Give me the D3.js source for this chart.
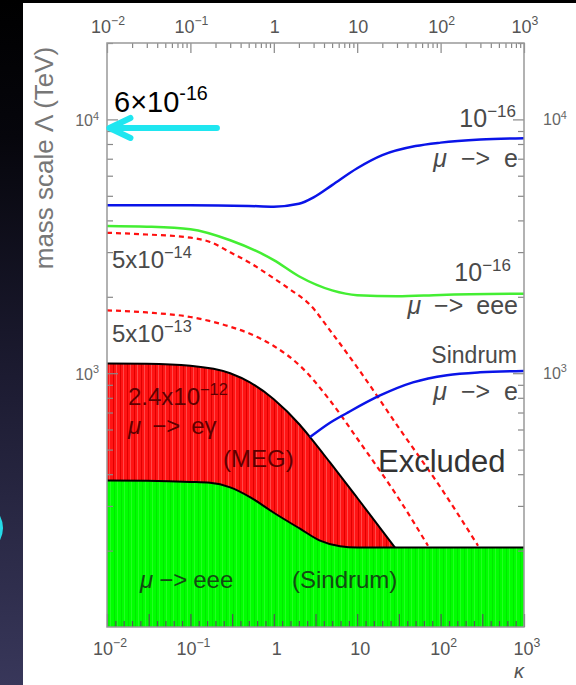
<!DOCTYPE html>
<html>
<head>
<meta charset="utf-8">
<script src="https://cdn.jsdelivr.net/npm/d3@7"></script>
<style>
  body { margin: 0; background: #fff; }
  svg { display: block; font-family: "Liberation Sans", Arial, sans-serif; }
</style>
</head>
<body>
<svg id="chart" width="576" height="685"></svg>
<script>
// ---- axis ticks -------------------------------------------------------
const kappaMajor = [0.01, 0.1, 1, 10, 100, 1000];
const kappaLabels = [["10", "−2"], ["10", "−1"], ["1", ""], ["10", ""], ["10", "2"], ["10", "3"]];
const lambdaMajor = [1000, 10000];
const lambdaLabels = [["10", "3"], ["10", "4"]];

// ---- bounds: [kappa, Lambda in TeV] -------------------------------------
// mu -> e conversion, BR 1e-16
const muE_1e16 = [[0.01, 4592], [0.1, 4592], [0.5, 4560], [1, 4530], [2, 4650], [3, 4930],
  [5, 5510], [10, 6420], [20, 7230], [50, 7850], [100, 8100], [300, 8330], [1000, 8437]];
// mu -> eee, BR 1e-16
const muEee_1e16 = [[0.01, 3805], [0.03, 3780], [0.1, 3690], [0.3, 3340], [1, 2790], [2, 2410],
  [5, 2120], [10, 2030], [30, 2010], [100, 2035], [1000, 2057]];
// mu -> e gamma, BR 5e-14
const muEg_5e14 = [[0.01, 3575], [0.03, 3520], [0.1, 3420], [0.172, 3290], [0.3, 2995], [0.518, 2720],
  [1, 2365], [1.56, 2140], [2.72, 1860], [4.72, 1475], [10, 1055], [32.6, 600], [98, 358], [281, 209]];
// mu -> e gamma, BR 5e-13
const muEg_5e13 = [[0.01, 1769], [0.03, 1735], [0.1, 1665], [0.3, 1525], [0.518, 1430], [1, 1280],
  [2.06, 1070], [4.72, 781], [10, 553], [32.6, 315], [70.6, 209]];
// MEG limit, BR 2.4e-12
const meg = [[0.01, 1093], [0.03, 1090], [0.1, 1070], [0.3, 1000], [0.518, 920], [1, 790],
  [2.06, 625], [2.72, 560], [4.72, 445], [10, 323], [28.4, 205.5]];
// Sindrum mu -> eee limit
const sindrumEee = [[0.01, 378], [0.03, 377], [0.1, 373], [0.172, 370], [0.3, 355], [0.518, 325],
  [1, 282], [2.06, 244], [3.58, 219], [6.22, 208], [10, 205.5], [100, 205.5], [1000, 205.5]];
// Sindrum mu -> e conversion limit
const sindrumE = [[2.72, 560], [4.72, 638], [7.55, 697], [18.8, 817], [46.6, 920], [119, 982],
  [297, 1008], [1000, 1020]];
// projected sensitivity marker
const sensitivityArrow = [[0.0107, 9250], [0.208, 9250]];

// ---- layout -----------------------------------------------------------
const W = 576, H = 685;
const L = 107, R = 524, T = 43, B = 627;
const svg = d3.select("#chart");
const x = d3.scaleLog().domain([0.01, 1000]).range([L, R]);
const y = d3.scaleLog().domain([100, 20000]).range([B, T]);

const defs = svg.append("defs");
const side = defs.append("linearGradient").attr("id", "side")
  .attr("x1", 0).attr("y1", 0).attr("x2", 0).attr("y2", 1);
[[0, "#000000"], [0.2, "#06060c"], [0.55, "#1c1b31"], [1, "#38375a"]].forEach(([o, c]) =>
  side.append("stop").attr("offset", o).attr("stop-color", c));

const redPat = defs.append("pattern").attr("id", "redFill")
  .attr("patternUnits", "userSpaceOnUse").attr("width", 7).attr("height", 10);
redPat.append("rect").attr("width", 7).attr("height", 10).attr("fill", "#ff1414");
redPat.append("rect").attr("x", 1).attr("width", 1).attr("height", 10).attr("fill", "#e00000");
redPat.append("rect").attr("x", 4).attr("width", 1).attr("height", 10).attr("fill", "#ff4a4a");

const greenPat = defs.append("pattern").attr("id", "greenFill")
  .attr("patternUnits", "userSpaceOnUse").attr("width", 7).attr("height", 10);
greenPat.append("rect").attr("width", 7).attr("height", 10).attr("fill", "#00ff00");
greenPat.append("rect").attr("x", 2).attr("width", 1).attr("height", 10).attr("fill", "#00e800");
greenPat.append("rect").attr("x", 5).attr("width", 1).attr("height", 10).attr("fill", "#22ff22");

// page background
svg.append("rect").attr("width", W).attr("height", H).attr("fill", "#000");
svg.append("rect").attr("width", 23).attr("height", H).attr("fill", "url(#side)");
svg.append("rect").attr("x", 23).attr("y", 3).attr("width", W - 23).attr("height", H - 3).attr("fill", "#fff");
svg.append("path").attr("d", "M-4,512 Q7,528 -4,544").attr("fill", "none")
  .attr("stroke", "#25dbe8").attr("stroke-width", 3);

const plot = svg.append("g");
plot.append("clipPath").attr("id", "frameClip").append("rect")
  .attr("x", L).attr("y", T).attr("width", R - L).attr("height", B - T);
const inner = plot.append("g").attr("clip-path", "url(#frameClip)");

const line = d3.line().x(d => x(d[0])).y(d => y(d[1])).curve(d3.curveMonotoneX);

// MEG excluded band: everything under the MEG bound
const megArea = d3.area().x(d => x(d[0])).y0(B).y1(d => y(d[1])).curve(d3.curveMonotoneX);
inner.append("path").datum(meg).attr("d", megArea).attr("fill", "url(#redFill)");
// Sindrum mu -> eee excluded region
const eeeArea = d3.area().x(d => x(d[0])).y0(B + 2).y1(d => y(d[1])).curve(d3.curveMonotoneX);
inner.append("path").datum(sindrumEee).attr("d", eeeArea).attr("fill", "url(#greenFill)");

inner.append("path").datum(meg).attr("d", line).attr("fill", "none")
  .attr("stroke", "#000").attr("stroke-width", 2);
inner.append("path").datum(sindrumEee).attr("d", line).attr("fill", "none")
  .attr("stroke", "#000").attr("stroke-width", 2);

[muEg_5e14, muEg_5e13].forEach(s =>
  inner.append("path").datum(s).attr("d", line).attr("fill", "none")
    .attr("stroke", "#ff1010").attr("stroke-width", 2.2).attr("stroke-dasharray", "5,4"));

inner.append("path").datum(muEee_1e16).attr("d", line).attr("fill", "none")
  .attr("stroke", "#44ee33").attr("stroke-width", 2.5);
[muE_1e16, sindrumE].forEach(s =>
  inner.append("path").datum(s).attr("d", line).attr("fill", "none")
    .attr("stroke", "#0a14e8").attr("stroke-width", 2.5));

// ---- axes -------------------------------------------------------------
const tickColor = "#888";
function styleAxis(g) {
  g.select(".domain").remove();
  g.selectAll(".tick line").attr("stroke", tickColor).attr("stroke-width", 1.2);
  g.selectAll(".tick text").remove();
}
const kDecades = [0.01, 0.1, 1, 10, 100];
const kMinor = kDecades.flatMap(d => [2, 3, 4, 5, 6, 7, 8, 9].map(m => d * m));
const lMinor = [100, 1000].flatMap(d => [2, 3, 4, 5, 6, 7, 8, 9].map(m => d * m)).concat([20000]);
const bottomTicks = d3.range(0, 51).map(i => Math.pow(10, -2 + i / 10));

svg.append("g").attr("transform", `translate(0,${T})`)
  .call(d3.axisTop(x).tickValues(kappaMajor).tickSize(-10).tickSizeOuter(0)).call(styleAxis);
svg.append("g").attr("transform", `translate(0,${T})`)
  .call(d3.axisTop(x).tickValues(kMinor).tickSize(-5).tickSizeOuter(0)).call(styleAxis);
svg.append("g").attr("transform", `translate(0,${B})`)
  .call(d3.axisBottom(x).tickValues(bottomTicks.filter((d, i) => i % 5 === 0)).tickSize(-13).tickSizeOuter(0))
  .call(styleAxis).selectAll("line").attr("stroke", "#555");
svg.append("g").attr("transform", `translate(0,${B})`)
  .call(d3.axisBottom(x).tickValues(bottomTicks.filter((d, i) => i % 5 !== 0)).tickSize(-6).tickSizeOuter(0))
  .call(styleAxis).selectAll("line").attr("stroke", "#555");
[[d3.axisLeft, L], [d3.axisRight, R]].forEach(([ax, pos]) => {
  svg.append("g").attr("transform", `translate(${pos},0)`)
    .call(ax(y).tickValues(lambdaMajor).tickSize(-11).tickSizeOuter(0)).call(styleAxis);
  svg.append("g").attr("transform", `translate(${pos},0)`)
    .call(ax(y).tickValues(lMinor).tickSize(-6).tickSizeOuter(0)).call(styleAxis);
});

svg.append("rect").attr("x", L).attr("y", T).attr("width", R - L).attr("height", B - T)
  .attr("fill", "none").attr("stroke", "#999").attr("stroke-width", 1.5);

// text with an optional superscript
function supText(g, px, py, base, sup, size, anchor, fill) {
  const t = g.append("text").attr("x", px).attr("y", py).attr("font-size", size)
    .attr("text-anchor", anchor).attr("fill", fill);
  t.append("tspan").text(base);
  if (sup) t.append("tspan").attr("dy", -size * 0.42).attr("font-size", size * 0.68).text(sup);
  return t;
}
// "mu -> ..." decay label, with wide gaps around the arrow
function decayText(g, px, py, rest, size, anchor, fill, gap) {
  const t = g.append("text").attr("x", px).attr("y", py).attr("font-size", size)
    .attr("text-anchor", anchor).attr("fill", fill);
  t.append("tspan").attr("font-style", "italic").text("μ");
  t.append("tspan").attr("dx", gap).text("−>");
  t.append("tspan").attr("dx", gap).text(rest);
  return t;
}

const labels = svg.append("g");
kappaMajor.forEach((v, i) => {
  supText(labels, x(v) + 1, 33, kappaLabels[i][0], kappaLabels[i][1], 18, "middle", "#555");
  supText(labels, x(v) + 3, 655, kappaLabels[i][0], kappaLabels[i][1], 18, "middle", "#555");
});
labels.append("text").attr("x", x(1000) - 5).attr("y", 678).attr("font-size", 20)
  .attr("font-style", "italic").attr("text-anchor", "middle").attr("fill", "#555").text("κ");
lambdaMajor.forEach((v, i) => {
  supText(labels, L - 8, y(v) + 7, lambdaLabels[i][0], lambdaLabels[i][1], 16, "end", "#666");
  supText(labels, R + 19, y(v) + 6, lambdaLabels[i][0], lambdaLabels[i][1], 16, "start", "#666");
});
labels.append("text").attr("transform", "translate(53,158) rotate(-90)")
  .attr("font-size", 26).attr("text-anchor", "middle").attr("fill", "#777")
  .text("mass scale Λ (TeV)");

// curve annotations
const gray = "#4a4a4a";
supText(labels, 516, 127, "10", "−16", 25, "end", gray);
decayText(labels, 518, 167, "e", 25, "end", gray, 14);
supText(labels, 511, 281, "10", "−16", 25, "end", gray);
decayText(labels, 518, 314, "eee", 25, "end", gray, 13);
labels.append("text").attr("x", 517).attr("y", 363).attr("font-size", 23)
  .attr("text-anchor", "end").attr("fill", gray).text("Sindrum");
decayText(labels, 518, 400, "e", 25, "end", gray, 14);
labels.append("text").attr("x", 378).attr("y", 472).attr("font-size", 31)
  .attr("fill", "#333").text("Excluded");
supText(labels, 112, 268, "5x10", "−14", 24, "start", gray);
supText(labels, 112, 342, "5x10", "−13", 24, "start", gray);
const megInk = "#5e0000";
supText(labels, 128, 405, "2.4x10", "−12", 24, "start", megInk);
decayText(labels, 128, 434, "eγ", 24, "start", megInk, 11);
labels.append("text").attr("x", 223).attr("y", 467).attr("font-size", 24)
  .attr("fill", megInk).text("(MEG)");
decayText(labels, 140, 588, "eee", 24, "start", "#134a13", 6);
labels.append("text").attr("x", 292).attr("y", 588).attr("font-size", 24)
  .attr("fill", "#134a13").text("(Sindrum)");

// sensitivity arrow
const ay = y(sensitivityArrow[0][1]);
const ax0 = x(sensitivityArrow[0][0]), ax1 = x(sensitivityArrow[1][0]);
svg.append("path")
  .attr("d", `M${ax1},${ay} L${ax0},${ay} M${ax0 + 21},${ay - 10} L${ax0},${ay} L${ax0 + 21},${ay + 10}`)
  .attr("fill", "none").attr("stroke", "#1fe6f0").attr("stroke-width", 6)
  .attr("stroke-linecap", "round").attr("stroke-linejoin", "round");
supText(svg, 114, 112, "6×10", "-16", 29, "start", "#000");
</script>
</body>
</html>
